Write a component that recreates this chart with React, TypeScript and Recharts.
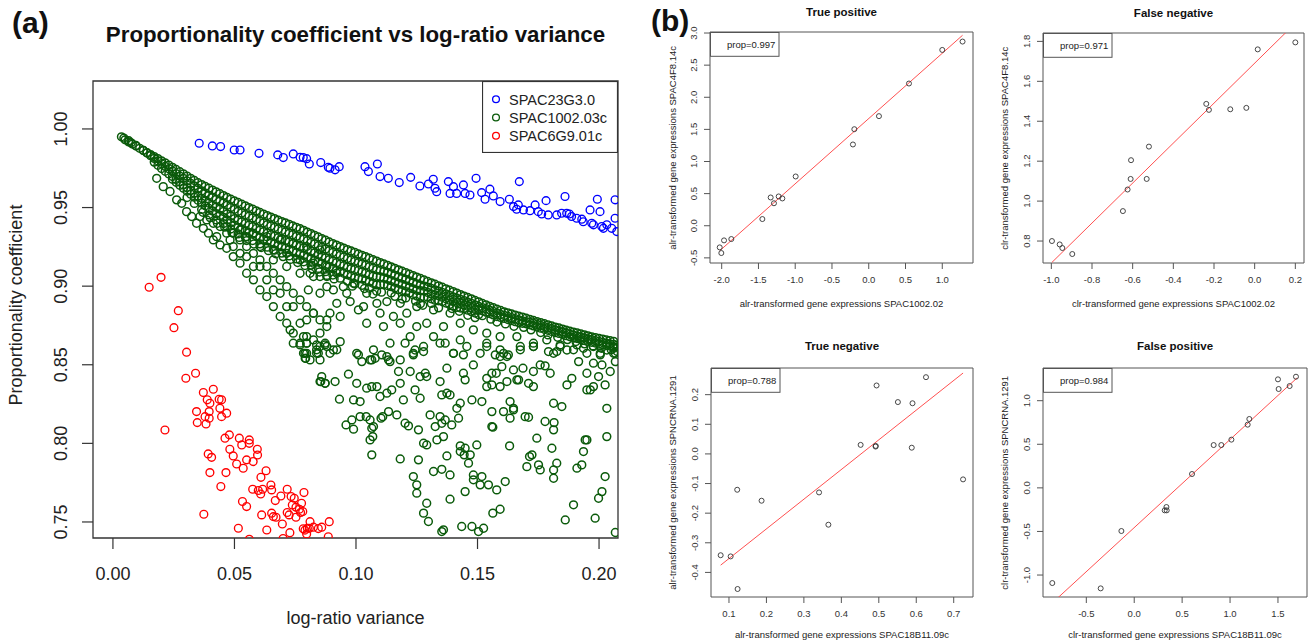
import React from 'react';
import { ScatterChart, Scatter, XAxis, YAxis, ReferenceArea, ReferenceLine, Legend } from 'recharts';

type P = [number, number];

// ---------------- Panel (a) data ----------------
const seriesNamesA = ['SPAC23G3.0', 'SPAC1002.03c', 'SPAC6G9.01c'];
const seriesColorsA = ['#0000ff', '#0a5a0a', '#ff0000'];

const blueSPAC23G3: P[] = [
  [0.0355,0.9909],[0.0409,0.9892],[0.0443,0.9888],[0.0499,0.9866],[0.0523,0.9866],[0.0601,0.9845],[0.0678,0.9835],[0.0701,0.9818],
  [0.0742,0.9841],[0.0770,0.9820],[0.0783,0.9818],[0.0797,0.9811],[0.0808,0.9777],[0.0855,0.9786],[0.0886,0.9756],[0.0893,0.9750],
  [0.0914,0.9740],[0.0931,0.9760],[0.1037,0.9760],[0.1051,0.9729],[0.1088,0.9777],[0.1099,0.9697],[0.1133,0.9686],[0.1178,0.9659],
  [0.1225,0.9692],[0.1263,0.9637],[0.1298,0.9650],[0.1318,0.9680],[0.1325,0.9623],[0.1332,0.9601],[0.1380,0.9665],[0.1387,0.9590],
  [0.1401,0.9633],[0.1414,0.9590],[0.1442,0.9644],[0.1449,0.9590],[0.1469,0.9580],[0.1494,0.9686],[0.1517,0.9595],[0.1531,0.9553],
  [0.1551,0.9617],[0.1565,0.9574],[0.1593,0.9538],[0.1631,0.9553],[0.1648,0.9506],[0.1661,0.9489],[0.1668,0.9517],[0.1672,0.9665],
  [0.1689,0.9485],[0.1716,0.9480],[0.1737,0.9517],[0.1750,0.9474],[0.1764,0.9459],[0.1782,0.9544],[0.1791,0.9453],[0.1826,0.9453],
  [0.1846,0.9464],[0.1860,0.9570],[0.1867,0.9464],[0.1878,0.9459],[0.1887,0.9443],[0.1908,0.9432],[0.1929,0.9426],[0.1935,0.9410],
  [0.1963,0.9485],[0.1970,0.9400],[0.1977,0.9390],[0.1993,0.9553],[0.2004,0.9474],[0.2011,0.9379],[0.2018,0.9368],[0.2032,0.9390],
  [0.2052,0.9368],[0.2066,0.9549],[0.2066,0.9432],[0.2073,0.9347],
];

const redSPAC6G9: P[] = [
  [0.0149,0.8993],[0.0198,0.9056],[0.0269,0.8844],[0.0251,0.8736],[0.0303,0.8580],[0.0340,0.8446],[0.0300,0.8414],[0.0214,0.8085],
  [0.0372,0.8323],[0.0413,0.8344],[0.0344,0.8202],[0.0347,0.8132],[0.0383,0.8123],[0.0379,0.8170],[0.0396,0.8160],[0.0388,0.8277],
  [0.0399,0.8255],[0.0396,0.8202],[0.0437,0.8280],[0.0447,0.8277],[0.0440,0.8223],[0.0447,0.8170],[0.0468,0.8192],[0.0392,0.7933],
  [0.0406,0.7911],[0.0399,0.7814],[0.0444,0.7725],[0.0465,0.7814],[0.0461,0.8033],[0.0479,0.8054],[0.0481,0.7962],[0.0495,0.7920],
  [0.0509,0.7869],[0.0520,0.8033],[0.0530,0.7990],[0.0536,0.7842],[0.0550,0.7895],[0.0561,0.8022],[0.0561,0.8000],[0.0577,0.7884],
  [0.0594,0.7962],[0.0595,0.7926],[0.0609,0.7784],[0.0630,0.7826],[0.0575,0.7708],[0.0598,0.7700],[0.0608,0.7678],[0.0616,0.7708],
  [0.0650,0.7735],[0.0653,0.7704],[0.0668,0.7636],[0.0691,0.7665],[0.0717,0.7708],[0.0733,0.7662],[0.0746,0.7651],[0.0738,0.7608],
  [0.0753,0.7594],[0.0767,0.7581],[0.0772,0.7560],[0.0786,0.7687],[0.0717,0.7560],[0.0725,0.7545],[0.0753,0.7530],[0.0533,0.7630],
  [0.0550,0.7598],[0.0374,0.7549],[0.0612,0.7545],[0.0653,0.7556],[0.0660,0.7534],[0.0671,0.7530],[0.0697,0.7487],[0.0516,0.7460],
  [0.0633,0.7449],[0.0728,0.7432],[0.0783,0.7457],[0.0790,0.7448],[0.0808,0.7460],[0.0825,0.7467],[0.0845,0.7458],[0.0859,0.7467],
  [0.0811,0.7502],[0.0797,0.7424],[0.0776,0.7619],[0.0781,0.7566],[0.0800,0.7460],[0.0890,0.7502],[0.0886,0.7406],[0.0561,0.7390],
  [0.0700,0.7395],
];

const greenApex: P[] = [
  [0.0035,0.9950],[0.0045,0.9942],[0.0065,0.9925],[0.0075,0.9912],[0.0095,0.9895],
];

const greenBandUpper: P[] = [
  [0.005,0.9931],[0.008,0.9904],[0.011,0.9877],[0.014,0.9850],[0.017,0.9824],[0.020,0.9797],[0.023,0.9770],[0.026,0.9742],
  [0.029,0.9714],[0.032,0.9686],[0.035,0.9658],[0.038,0.9634],[0.041,0.9611],[0.044,0.9588],[0.047,0.9564],[0.050,0.9542],
  [0.053,0.9521],[0.056,0.9500],[0.059,0.9479],[0.062,0.9458],[0.065,0.9439],[0.068,0.9420],[0.071,0.9402],[0.074,0.9383],
  [0.077,0.9365],[0.080,0.9344],[0.083,0.9323],[0.086,0.9302],[0.089,0.9281],[0.092,0.9261],[0.095,0.9242],[0.098,0.9224],
  [0.101,0.9205],[0.104,0.9187],[0.107,0.9168],[0.110,0.9150],[0.113,0.9132],[0.116,0.9113],[0.119,0.9095],[0.122,0.9076],
  [0.125,0.9058],[0.128,0.9039],[0.131,0.9021],[0.134,0.9002],[0.137,0.8983],[0.140,0.8965],[0.143,0.8946],[0.146,0.8928],
  [0.149,0.8909],[0.152,0.8890],[0.155,0.8872],[0.158,0.8853],[0.161,0.8837],[0.164,0.8823],[0.167,0.8809],[0.170,0.8796],
  [0.173,0.8782],[0.176,0.8768],[0.179,0.8754],[0.182,0.8740],[0.185,0.8727],[0.188,0.8713],[0.191,0.8702],[0.194,0.8690],
  [0.197,0.8678],[0.200,0.8667],[0.203,0.8658],[0.206,0.8649],
];

const greenBandUpperB: P[] = [
  [0.0065,0.9918],[0.0095,0.9891],[0.0125,0.9864],[0.0155,0.9837],[0.0185,0.9811],[0.0215,0.9784],[0.0245,0.9756],[0.0275,0.9728],
  [0.0305,0.9700],[0.0335,0.9672],[0.0365,0.9646],[0.0395,0.9623],[0.0425,0.9600],[0.0455,0.9576],[0.0485,0.9553],[0.0515,0.9532],
  [0.0545,0.9511],[0.0575,0.9490],[0.0605,0.9469],[0.0635,0.9449],[0.0665,0.9430],[0.0695,0.9411],[0.0725,0.9393],[0.0755,0.9374],
  [0.0785,0.9355],[0.0815,0.9334],[0.0845,0.9313],[0.0875,0.9292],[0.0905,0.9271],[0.0935,0.9252],[0.0965,0.9233],[0.0995,0.9215],
  [0.1025,0.9196],[0.1055,0.9178],[0.1085,0.9159],[0.1115,0.9141],[0.1145,0.9123],[0.1175,0.9104],[0.1205,0.9086],[0.1235,0.9067],
  [0.1265,0.9049],[0.1295,0.9030],[0.1325,0.9012],[0.1355,0.8993],[0.1385,0.8974],[0.1415,0.8956],[0.1445,0.8937],[0.1475,0.8919],
  [0.1505,0.8900],[0.1535,0.8881],[0.1565,0.8863],[0.1595,0.8845],[0.1625,0.8830],[0.1655,0.8816],[0.1685,0.8803],[0.1715,0.8789],
  [0.1745,0.8775],[0.1775,0.8761],[0.1805,0.8747],[0.1835,0.8734],[0.1865,0.8720],[0.1895,0.8708],[0.1925,0.8696],[0.1955,0.8684],
  [0.1985,0.8673],[0.2015,0.8663],[0.2045,0.8654],
];

const greenBandSecond: P[] = [
  [0.0125,0.9863],[0.0155,0.9830],[0.0185,0.9796],[0.0215,0.9762],[0.0245,0.9732],[0.0275,0.9700],[0.0305,0.9669],[0.0335,0.9637],
  [0.0365,0.9606],[0.0395,0.9578],[0.0425,0.9552],[0.0455,0.9529],[0.0485,0.9501],[0.0515,0.9476],[0.0545,0.9455],[0.0575,0.9434],
  [0.0605,0.9413],[0.0635,0.9392],[0.0665,0.9373],[0.0695,0.9354],[0.0725,0.9336],[0.0755,0.9317],[0.0785,0.9299],[0.0815,0.9278],
  [0.0845,0.9257],[0.0875,0.9236],[0.0905,0.9215],[0.0935,0.9195],[0.0965,0.9176],[0.0995,0.9158],[0.1025,0.9142],[0.1055,0.9124],
  [0.1085,0.9105],[0.1115,0.9094],[0.1145,0.9078],[0.1175,0.9059],[0.1205,0.9043],[0.1235,0.9024],[0.1265,0.9006],[0.1295,0.8994],
  [0.1325,0.8976],[0.1355,0.8960],[0.1385,0.8941],[0.1415,0.8923],[0.1445,0.8908],[0.1475,0.8890],[0.1505,0.8871],[0.1535,0.8857],
  [0.1565,0.8839],[0.1595,0.8820],[0.1625,0.8807],[0.1655,0.8793],[0.1685,0.8779],[0.1715,0.8771],[0.1745,0.8757],[0.1775,0.8743],
  [0.1805,0.8729],[0.1835,0.8715],[0.1865,0.8702],[0.1895,0.8688],[0.1925,0.8677],[0.1955,0.8665],[0.1985,0.8653],[0.2015,0.8642],
  [0.2045,0.8633],[0.2075,0.8624],
];

const greenBandSecondB: P[] = [
  [0.014,0.9847],[0.017,0.9813],[0.020,0.9779],[0.023,0.9747],[0.026,0.9716],[0.029,0.9685],[0.032,0.9653],[0.035,0.9622],
  [0.038,0.9592],[0.041,0.9565],[0.044,0.9541],[0.047,0.9515],[0.050,0.9489],[0.053,0.9466],[0.056,0.9445],[0.059,0.9424],
  [0.062,0.9403],[0.065,0.9383],[0.068,0.9364],[0.071,0.9345],[0.074,0.9327],[0.077,0.9308],[0.080,0.9289],[0.083,0.9268],
  [0.086,0.9247],[0.089,0.9226],[0.092,0.9205],[0.095,0.9186],[0.098,0.9167],[0.101,0.9150],[0.104,0.9133],[0.107,0.9115],
  [0.110,0.9100],[0.113,0.9086],[0.116,0.9069],[0.119,0.9051],[0.122,0.9034],[0.125,0.9015],[0.128,0.9000],[0.131,0.8985],
  [0.134,0.8968],[0.137,0.8951],[0.140,0.8932],[0.143,0.8916],[0.146,0.8899],[0.149,0.8881],[0.152,0.8864],[0.155,0.8848],
  [0.158,0.8830],[0.161,0.8814],[0.164,0.8800],[0.167,0.8786],[0.170,0.8775],[0.173,0.8764],[0.176,0.8750],[0.179,0.8736],
  [0.182,0.8722],[0.185,0.8709],[0.188,0.8695],[0.191,0.8683],[0.194,0.8671],[0.197,0.8659],[0.200,0.8648],[0.203,0.8638],
  [0.206,0.8629],
];

const greenBandThird: P[] = [
  [0.017,0.9789],[0.020,0.9748],[0.023,0.9714],[0.026,0.9679],[0.029,0.9644],[0.032,0.9609],[0.035,0.9574],[0.038,0.9543],
  [0.041,0.9513],[0.044,0.9490],[0.047,0.9459],[0.050,0.9430],[0.053,0.9409],[0.056,0.9388],[0.059,0.9367],[0.062,0.9346],
  [0.065,0.9327],[0.068,0.9308],[0.071,0.9290],[0.074,0.9271],[0.077,0.9253],[0.080,0.9232],[0.083,0.9211],[0.086,0.9190],
  [0.089,0.9169],[0.092,0.9149],[0.095,0.9130],[0.098,0.9112],[0.101,0.9100],[0.104,0.9082],[0.107,0.9063],[0.110,0.9059],
  [0.113,0.9044],[0.116,0.9025],[0.119,0.9011],[0.122,0.8992],[0.125,0.8974],[0.128,0.8969],[0.131,0.8951],[0.134,0.8939],
  [0.137,0.8920],[0.140,0.8902],[0.143,0.8890],[0.146,0.8872],[0.149,0.8853],[0.152,0.8844],[0.155,0.8826],[0.158,0.8807],
  [0.161,0.8795],[0.164,0.8781],[0.167,0.8767],[0.170,0.8761],[0.173,0.8747],[0.176,0.8733],[0.179,0.8719],[0.182,0.8705],
  [0.185,0.8692],[0.188,0.8678],[0.191,0.8667],[0.194,0.8655],[0.197,0.8643],[0.200,0.8632],[0.203,0.8623],[0.206,0.8614],
];

const greenBandThirdB: P[] = [
  [0.0185,0.9769],[0.0215,0.9731],[0.0245,0.9697],[0.0275,0.9662],[0.0305,0.9627],[0.0335,0.9592],[0.0365,0.9559],[0.0395,0.9528],
  [0.0425,0.9502],[0.0455,0.9475],[0.0485,0.9445],[0.0515,0.9420],[0.0545,0.9399],[0.0575,0.9378],[0.0605,0.9357],[0.0635,0.9337],
  [0.0665,0.9318],[0.0695,0.9299],[0.0725,0.9281],[0.0755,0.9262],[0.0785,0.9243],[0.0815,0.9222],[0.0845,0.9201],[0.0875,0.9180],
  [0.0905,0.9159],[0.0935,0.9140],[0.0965,0.9121],[0.0995,0.9106],[0.1025,0.9091],[0.1055,0.9073],[0.1085,0.9061],[0.1115,0.9052],
  [0.1145,0.9035],[0.1175,0.9018],[0.1205,0.9002],[0.1235,0.8983],[0.1265,0.8972],[0.1295,0.8960],[0.1325,0.8945],[0.1355,0.8930],
  [0.1385,0.8911],[0.1415,0.8896],[0.1445,0.8881],[0.1475,0.8863],[0.1505,0.8849],[0.1535,0.8835],[0.1565,0.8817],[0.1595,0.8801],
  [0.1625,0.8788],[0.1655,0.8774],[0.1685,0.8764],[0.1715,0.8754],[0.1745,0.8740],[0.1775,0.8726],[0.1805,0.8712],[0.1835,0.8699],
  [0.1865,0.8685],[0.1895,0.8673],[0.1925,0.8661],[0.1955,0.8649],[0.1985,0.8638],[0.2015,0.8628],[0.2045,0.8619],
];

const greenBandLower: P[] = [
  [0.0245,0.9680],[0.0275,0.9642],[0.0305,0.9604],[0.0335,0.9566],[0.0365,0.9528],[0.0395,0.9494],[0.0425,0.9461],[0.0455,0.9438],
  [0.0485,0.9404],[0.0515,0.9372],[0.0545,0.9351],[0.0575,0.9330],[0.0605,0.9309],[0.0635,0.9288],[0.0665,0.9269],[0.0695,0.9250],
  [0.0725,0.9232],[0.0755,0.9213],[0.0785,0.9195],[0.0815,0.9174],[0.0845,0.9153],[0.0875,0.9132],[0.0905,0.9111],[0.0935,0.9091],
  [0.0965,0.9072],[0.0995,0.9054],[0.1025,0.9045],[0.1055,0.9027],[0.1085,0.9008],[0.1115,0.9010],[0.1145,0.8997],[0.1175,0.8978],
  [0.1205,0.8965],[0.1235,0.8946],[0.1265,0.8928],[0.1295,0.8929],[0.1325,0.8911],[0.1355,0.8902],[0.1385,0.8883],[0.1415,0.8865],
  [0.1445,0.8856],[0.1475,0.8838],[0.1505,0.8819],
];

const greenBandLowerB: P[] = [
  [0.026,0.9661],[0.029,0.9623],[0.032,0.9585],[0.035,0.9547],[0.038,0.9511],[0.041,0.9478],[0.044,0.9450],[0.047,0.9421],
  [0.050,0.9388],[0.053,0.9362],[0.056,0.9341],[0.059,0.9320],[0.062,0.9299],[0.065,0.9279],[0.068,0.9260],[0.071,0.9241],
  [0.074,0.9223],[0.077,0.9204],[0.080,0.9185],[0.083,0.9164],[0.086,0.9143],[0.089,0.9122],[0.092,0.9101],[0.095,0.9082],
  [0.098,0.9063],[0.101,0.9050],[0.104,0.9036],[0.107,0.9018],[0.110,0.9009],[0.113,0.9004],[0.116,0.8988],[0.119,0.8972],
  [0.122,0.8956],[0.125,0.8937],[0.128,0.8929],[0.131,0.8920],[0.134,0.8907],[0.137,0.8893],[0.140,0.8874],[0.143,0.8861],
  [0.146,0.8847],[0.149,0.8829],
];

const greenBandDeep: P[] = [
  [0.0305,0.9564],[0.0335,0.9526],[0.0365,0.9488],[0.0395,0.9454],[0.0425,0.9421],[0.0455,0.9398],[0.0485,0.9364],[0.0515,0.9332],
  [0.0545,0.9311],[0.0575,0.9290],[0.0605,0.9269],[0.0635,0.9248],[0.0665,0.9229],[0.0695,0.9210],[0.0725,0.9192],[0.0755,0.9173],
  [0.0785,0.9155],[0.0815,0.9134],[0.0845,0.9113],[0.0875,0.9092],[0.0905,0.9071],[0.0935,0.9051],[0.0965,0.9032],[0.0995,0.9014],
  [0.1025,0.9005],[0.1055,0.8987],[0.1085,0.8968],[0.1145,0.8957],[0.1205,0.8925],[0.1265,0.8888],
];

const greenBandDeepest: P[] = [
  [0.037,0.9470],[0.040,0.9436],[0.043,0.9400],[0.046,0.9375],[0.049,0.9340],[0.052,0.9310],[0.055,0.9290],[0.058,0.9268],
  [0.061,0.9246],[0.064,0.9226],[0.067,0.9206],[0.070,0.9188],[0.073,0.9170],[0.076,0.9150],[0.079,0.9131],[0.082,0.9110],
  [0.085,0.9090],[0.088,0.9068],[0.091,0.9046],
];

const greenBandFringe: P[] = [
  [0.0985,0.9000],[0.1035,0.8985],[0.1070,0.8950],[0.1105,0.8962],[0.1160,0.8935],[0.1190,0.8918],[0.1245,0.8905],[0.1275,0.8878],
  [0.1310,0.8890],[0.1340,0.8862],[0.1395,0.8858],[0.1425,0.8840],[0.1460,0.8815],[0.1490,0.8800],[0.1520,0.8812],[0.1555,0.8790],
  [0.1580,0.8772],[0.1615,0.8760],[0.1650,0.8745],[0.1690,0.8738],[0.1720,0.8722],[0.1760,0.8705],[0.1790,0.8690],[0.1830,0.8675],
  [0.1870,0.8660],[0.1905,0.8648],[0.1940,0.8633],[0.1975,0.8620],[0.2010,0.8605],[0.2050,0.8595],[0.2075,0.8585],
];

const greenSpreadLeft: P[] = [
  [0.0180,0.9686],[0.0207,0.9633],[0.0235,0.9602],[0.0262,0.9549],[0.0283,0.9527],[0.0303,0.9474],[0.0324,0.9443],[0.0344,0.9400],
  [0.0372,0.9368],[0.0393,0.9337],[0.0413,0.9294],[0.0441,0.9262],[0.0468,0.9241],[0.0495,0.9188],[0.0523,0.9146],[0.0550,0.9082],
  [0.0578,0.9040],[0.0605,0.8976],[0.0633,0.8934],[0.0660,0.8870],[0.0688,0.8807],[0.0715,0.8764],[0.0742,0.8701],[0.0770,0.8637],
  [0.0797,0.8573],[0.0358,0.9443],[0.0386,0.9421],[0.0413,0.9400],[0.0441,0.9379],[0.0468,0.9337],[0.0495,0.9337],[0.0523,0.9294],
  [0.0550,0.9252],[0.0578,0.9209],[0.0605,0.9167],[0.0633,0.9125],[0.0660,0.9082],[0.0688,0.9040],[0.0715,0.8997],[0.0742,0.8955],
  [0.0770,0.8913],[0.0797,0.8870],[0.0825,0.8828],[0.0852,0.8785],[0.0880,0.8743],[0.0468,0.9379],[0.0523,0.9358],[0.0578,0.9337],
  [0.0633,0.9315],[0.0688,0.9294],[0.0742,0.9273],[0.0797,0.9252],[0.0852,0.9231],[0.0495,0.9252],[0.0550,0.9188],[0.0605,0.9125],
  [0.0660,0.9167],[0.0715,0.9125],[0.0770,0.9082],[0.0825,0.9061],[0.0880,0.8997],[0.0578,0.9125],[0.0633,0.9040],[0.0688,0.8955],
  [0.0742,0.8870],[0.0797,0.8785],[0.0852,0.8701],[0.0880,0.8616],[0.0825,0.8658],[0.0770,0.8764],[0.0715,0.8870],[0.0660,0.8976],
  [0.0523,0.9209],[0.0427,0.9315],[0.0482,0.9294],[0.0550,0.9315],[0.0605,0.9252],[0.0660,0.9231],[0.0715,0.9209],[0.0770,0.9167],
  [0.0825,0.9146],[0.0880,0.9125],[0.0729,0.8722],[0.0784,0.8679],[0.0838,0.8595],[0.0893,0.8573],[0.0852,0.8531],[0.0811,0.8531],
  [0.0742,0.8637],[0.0770,0.8626],[0.0797,0.8637],[0.0838,0.8626],[0.0873,0.8637],[0.0790,0.8573],[0.0838,0.8573],[0.0793,0.8541],
  [0.0859,0.8425],[0.0873,0.8382],[0.0852,0.8393],
];

const greenSpreadMid: P[] = [
  [0.0811,0.9082],[0.0880,0.9061],[0.0921,0.9082],[0.0804,0.8976],[0.0852,0.8955],[0.0907,0.8976],[0.0948,0.8997],[0.0990,0.9019],
  [0.1044,0.8955],[0.0921,0.8891],[0.0976,0.8902],[0.1010,0.8849],[0.1086,0.8891],[0.1127,0.8902],[0.0825,0.8828],[0.0880,0.8785],
  [0.0935,0.8807],[0.1044,0.8764],[0.1113,0.8743],[0.1182,0.8764],[0.1223,0.8679],[0.1140,0.8637],[0.1072,0.8595],[0.1003,0.8573],
  [0.0921,0.8595],[0.0852,0.8616],[0.0797,0.8679],[0.0784,0.8573],[0.1236,0.8573],[0.1278,0.8616],[0.1346,0.8637],[0.1401,0.8573],
  [0.1456,0.8616],[0.1511,0.8573],[0.1538,0.8637],[0.1593,0.8595],[0.1621,0.8552],[0.1676,0.8595],[0.1730,0.8616],[0.1785,0.8658],
  [0.1813,0.8573],[0.1840,0.8616],[0.1895,0.8595],[0.1950,0.8573],[0.2005,0.8563],[0.2060,0.8573],[0.1182,0.8891],[0.1250,0.8870],
  [0.1319,0.8849],[0.1387,0.8828],[0.1209,0.8828],[0.1291,0.8764],[0.1360,0.8743],[0.1429,0.8764],[0.1483,0.8722],[0.1538,0.8701],
  [0.1593,0.8679],[0.1662,0.8679],[0.1730,0.8637],[0.1429,0.8658],[0.1319,0.8679],[0.1250,0.8743],[0.1154,0.8807],[0.1099,0.8828],
  [0.1031,0.8870],[0.0962,0.8955],[0.0852,0.9061],[0.0893,0.8828],
];

const greenSpreadLow: P[] = [
  [0.0797,0.8637],[0.0845,0.8573],[0.0873,0.8626],[0.0907,0.8594],[0.0935,0.8647],[0.1010,0.8563],[0.1065,0.8531],[0.1079,0.8541],
  [0.1106,0.8563],[0.1127,0.8552],[0.1140,0.8520],[0.1182,0.8531],[0.1202,0.8637],[0.1236,0.8563],[0.1243,0.8594],[0.1278,0.8584],
  [0.1367,0.8637],[0.1401,0.8573],[0.1442,0.8563],[0.1538,0.8616],[0.1573,0.8563],[0.1593,0.8552],[0.1607,0.8573],[0.1627,0.8563],
  [0.1676,0.8616],[0.1730,0.8616],[0.1792,0.8584],[0.1840,0.8626],[0.1868,0.8594],[0.1909,0.8626],[0.1936,0.8605],[0.1977,0.8616],
  [0.2005,0.8573],[0.2032,0.8594],[0.2060,0.8605],[0.2067,0.8573],
  [0.0791,0.8541],[0.1024,0.8520],[0.1058,0.8531],[0.1134,0.8531],[0.1175,0.8457],[0.1223,0.8457],[0.1285,0.8446],[0.1264,0.8425],
  [0.1291,0.8425],[0.1346,0.8393],[0.1374,0.8478],[0.1442,0.8446],[0.1449,0.8404],[0.1483,0.8499],[0.1538,0.8414],[0.1559,0.8446],
  [0.1577,0.8446],[0.1600,0.8488],[0.1621,0.8393],[0.1648,0.8467],[0.1662,0.8404],[0.1687,0.8478],[0.1710,0.8382],[0.1730,0.8457],
  [0.1758,0.8499],[0.1778,0.8493],[0.1799,0.8446],[0.1826,0.8584],[0.1868,0.8372],[0.1888,0.8414],[0.1916,0.8520],[0.1950,0.8446],
  [0.1964,0.8340],[0.1977,0.8510],[0.1998,0.8425],[0.2012,0.8499],[0.2046,0.8457],[0.2067,0.8520],
  [0.0855,0.8393],[0.0873,0.8382],[0.0914,0.8393],[0.0932,0.8281],[0.0969,0.8440],[0.0990,0.8276],[0.1003,0.8382],[0.1017,0.8266],
  [0.1044,0.8351],[0.1065,0.8361],[0.1086,0.8361],[0.1099,0.8298],[0.1127,0.8319],[0.1147,0.8340],[0.1182,0.8382],[0.1195,0.8276],
  [0.1243,0.8340],[0.1264,0.8287],[0.1353,0.8308],[0.1374,0.8319],[0.1387,0.8308],[0.1415,0.8223],[0.1429,0.8255],[0.1477,0.8276],
  [0.1518,0.8266],[0.1538,0.8361],[0.1559,0.8372],[0.1593,0.8361],[0.1634,0.8266],[0.1648,0.8223],[0.1669,0.8404],[0.1730,0.8361],
  [0.1813,0.8255],[0.1847,0.8234],[0.1950,0.8340],[0.1977,0.8361],[0.2025,0.8372],[0.2032,0.8223],
  [0.0959,0.8117],[0.0983,0.8149],[0.0990,0.8090],[0.1017,0.8170],[0.1042,0.8170],[0.1058,0.8149],[0.1065,0.8096],[0.1072,0.8107],
  [0.1058,0.8022],[0.1069,0.8043],[0.1103,0.8160],[0.1110,0.8170],[0.1134,0.8202],[0.1168,0.8181],[0.1202,0.8128],[0.1216,0.8111],
  [0.1257,0.8086],[0.1305,0.8181],[0.1326,0.8107],[0.1346,0.8170],[0.1353,0.8128],[0.1367,0.8149],[0.1394,0.8117],[0.1422,0.8160],
  [0.1360,0.8043],[0.1333,0.8022],[0.1559,0.8202],[0.1559,0.8107],[0.1563,0.8103],[0.1607,0.8202],[0.1634,0.8160],[0.1648,0.8213],
  [0.1696,0.8170],[0.1710,0.8166],[0.1744,0.8033],[0.1778,0.8139],[0.1815,0.8132],[0.1813,0.8086],[0.2032,0.8043],[0.1950,0.8022],
  [0.1065,0.7927],[0.1182,0.7901],[0.1257,0.7895],[0.1278,0.8001],[0.1291,0.7990],[0.1374,0.7920],[0.1429,0.7984],[0.1429,0.7948],
  [0.1445,0.7927],[0.1449,0.7969],[0.1470,0.7927],[0.1497,0.7990],[0.1463,0.7874],[0.1632,0.7984],[0.1714,0.7916],[0.1724,0.7927],
  [0.1703,0.7852],[0.1751,0.7863],[0.1758,0.7831],[0.1806,0.7969],[0.1813,0.7831],[0.1826,0.7874],[0.1909,0.7842],[0.1929,0.7863],
  [0.1943,0.8022],[0.1936,0.7948],
  [0.1236,0.7789],[0.1250,0.7736],[0.1250,0.7683],[0.1319,0.7821],[0.1353,0.7835],[0.1387,0.7799],[0.1483,0.7799],[0.1483,0.7768],
  [0.1518,0.7789],[0.1511,0.7736],[0.1545,0.7736],[0.1579,0.7704],[0.1614,0.7757],[0.1449,0.7693],[0.1387,0.7645],[0.1813,0.7778],
  [0.2025,0.7789],[0.2012,0.7693],[0.1998,0.7651],[0.1895,0.7609],
  [0.1291,0.7619],[0.1278,0.7556],[0.1298,0.7503],[0.1353,0.7439],[0.1360,0.7450],[0.1435,0.7471],[0.1477,0.7471],[0.1504,0.7439],
  [0.1525,0.7460],[0.1563,0.7556],[0.1593,0.7581],[0.1861,0.7513],[0.1984,0.7524],[0.2067,0.7433],
];

const greenSPAC1002: P[] = [
  ...greenApex, ...greenBandUpper, ...greenBandUpperB, ...greenBandSecond, ...greenBandSecondB,
  ...greenBandThird, ...greenBandThirdB, ...greenBandLower, ...greenBandLowerB, ...greenBandDeep, ...greenBandDeepest,
  ...greenBandFringe, ...greenSpreadLeft, ...greenSpreadMid, ...greenSpreadLow,
];

const aXTicks = [0, 0.05, 0.1, 0.15, 0.2];
const aYTicks = [0.75, 0.8, 0.85, 0.9, 0.95, 1.0];
const aXDomain: [number, number] = [-0.0082, 0.2078];
const aYDomain: [number, number] = [0.7398, 1.0305];

// ---------------- Panel (b) data ----------------
const tpPoints: P[] = [
  [-2.027,-0.337],[-2.005,-0.425],[-1.968,-0.228],[-1.869,-0.207],[-1.447,0.104],[-1.334,0.44],[-1.289,0.35],[-1.225,0.456],
  [-1.175,0.425],[-0.994,0.767],[-0.215,1.265],[-0.196,1.503],[0.139,1.706],[0.547,2.214],[1.0,2.737],[1.276,2.867],
];
const tpFit: P[] = [[-2.027,-0.390],[1.276,2.965]];
const tpXTicks = [-2, -1.5, -1, -0.5, 0, 0.5, 1];
const tpYTicks = [-0.5, 0, 0.5, 1, 1.5, 2, 2.5, 3];

const fnPoints: P[] = [
  [-0.997,0.80],[-0.959,0.783],[-0.946,0.765],[-0.897,0.735],[-0.648,0.950],[-0.625,1.058],[-0.610,1.111],[-0.608,1.205],
  [-0.531,1.111],[-0.520,1.273],[-0.238,1.487],[-0.225,1.457],[-0.120,1.460],[-0.041,1.467],[0.015,1.760],[0.200,1.795],
];
const fnFit: P[] = [[-0.997,0.693],[0.200,1.891]];
const fnXTicks = [-1, -0.8, -0.6, -0.4, -0.2, 0, 0.2];
const fnYTicks = [0.8, 1.0, 1.2, 1.4, 1.6, 1.8];

const tnPoints: P[] = [
  [0.0778,-0.342],[0.1044,-0.346],[0.123,-0.456],[0.122,-0.121],[0.187,-0.158],[0.3405,-0.130],[0.3654,-0.239],[0.4515,0.0305],
  [0.4914,0.0248],[0.4918,0.027],[0.494,0.231],[0.551,0.175],[0.590,0.171],[0.588,0.021],[0.626,0.259],[0.725,-0.086],
];
const tnFit: P[] = [[0.0778,-0.3755],[0.725,0.273]];
const tnXTicks = [0.1, 0.2, 0.3, 0.4, 0.5, 0.6, 0.7];
const tnYTicks = [-0.4, -0.3, -0.2, -0.1, 0, 0.1, 0.2];

const fpPoints: P[] = [
  [-0.855,-1.092],[-0.350,-1.153],[-0.134,-0.495],[0.318,-0.258],[0.336,-0.220],[0.339,-0.258],[0.603,0.159],[0.829,0.491],
  [0.909,0.491],[1.014,0.553],[1.184,0.725],[1.201,0.790],[1.500,1.245],[1.507,1.134],[1.622,1.168],[1.688,1.275],
];
const fpFit: P[] = [[-0.855,-1.320],[1.700,1.262]];
const fpXTicks = [-0.5, 0, 0.5, 1, 1.5];
const fpYTicks = [-1, -0.5, 0, 0.5, 1];

// ---------------- helpers ----------------
const FONT = '"Liberation Sans", Arial, Helvetica, sans-serif';
const toXY = (arr: P[]) => arr.map(([x, y]) => ({ x, y }));

const ring = (r: number, color: string, sw: number) => (props: any) => {
  if (props == null || props.cx == null || props.cy == null) return <g />;
  return <circle cx={props.cx} cy={props.cy} r={r} fill="none" stroke={color} strokeWidth={sw} />;
};

const makeXTick = (fs: number, dy: number, digits: number, color: string) => (props: any) => {
  const { x, y, payload } = props;
  return (
    <text x={x} y={y + dy} textAnchor="middle" fontSize={fs} fill={color} fontFamily={FONT}>
      {Number(payload.value).toFixed(digits)}
    </text>
  );
};

const makeYTick = (fs: number, dx: number, digits: number, color: string) => (props: any) => {
  const { x, y, payload } = props;
  const tx = x + dx;
  return (
    <text x={tx} y={y} transform={`rotate(-90 ${tx} ${y})`} textAnchor="middle" fontSize={fs} fill={color} fontFamily={FONT}>
      {Number(payload.value).toFixed(digits)}
    </text>
  );
};

const LegendA = () => (
  <svg width={136} height={72} style={{ display: 'block' }}>
    <rect x={0.5} y={0.5} width={135} height={71} fill="#fff" stroke="#333" strokeWidth={1.2} />
    {seriesNamesA.map((n, i) => (
      <g key={n}>
        <circle cx={14} cy={18.3 + i * 18.2} r={3.4} fill="none" stroke={seriesColorsA[i]} strokeWidth={1.3} />
        <text x={27} y={18.3 + i * 18.2 + 5.2} fontSize={14.5} fill="#222" fontFamily={FONT}>{n}</text>
      </g>
    ))}
  </svg>
);

const PropLegend = ({ label }: { label: string }) => (
  <svg width={70} height={25} style={{ display: 'block' }}>
    <rect x={0.5} y={0.5} width={68.5} height={23.8} fill="#fff" stroke="#555" strokeWidth={1} />
    <text x={17} y={16} fontSize={9.5} fill="#222" fontFamily={FONT}>{label}</text>
  </svg>
);

type SmallCfg = {
  left: number; top: number; width: number; height: number;
  plotLeft: number; plotTop: number; plotRight: number; plotBottom: number;
  xDomain: [number, number]; yDomain: [number, number];
  xTicks: number[]; yTicks: number[];
  points: P[]; fit: P[]; prop: string;
};

const SmallPlot = ({ c }: { c: SmallCfg }) => {
  const yAxisW = c.plotLeft - c.left;
  const xAxisH = c.top + c.height - c.plotBottom;
  return (
    <div style={{ position: 'absolute', left: c.left, top: c.top }}>
      <ScatterChart
        width={c.width}
        height={c.height}
        margin={{ top: c.plotTop - c.top, right: c.left + c.width - c.plotRight, bottom: 0, left: 0 }}
      >
        <XAxis type="number" dataKey="x" domain={c.xDomain} allowDataOverflow ticks={c.xTicks} interval={0}
          tick={makeXTick(9.5, 14, 1, '#333')} tickSize={6} tickMargin={0} tickLine={{ stroke: '#555' }}
          axisLine={false} height={xAxisH} />
        <YAxis type="number" dataKey="y" domain={c.yDomain} allowDataOverflow ticks={c.yTicks} interval={0}
          tick={makeYTick(9.5, -7, 1, '#333')} tickSize={6} tickMargin={0} tickLine={{ stroke: '#555' }}
          axisLine={false} width={yAxisW} />
        <ReferenceArea x1={c.xDomain[0]} x2={c.xDomain[1]} y1={c.yDomain[0]} y2={c.yDomain[1]}
          fill="none" fillOpacity={0} stroke="#555" strokeWidth={1} ifOverflow="visible" />
        <ReferenceLine segment={toXY(c.fit)} stroke="#ff5050" strokeWidth={1} ifOverflow="hidden" />
        <Scatter data={toXY(c.points)} shape={ring(2.5, '#333', 0.9)} isAnimationActive={false} />
        <Legend layout="horizontal" verticalAlign="middle" align="center"
          wrapperStyle={{ left: c.plotLeft - c.left, top: c.plotTop - c.top, width: 70, height: 25 }}
          content={() => <PropLegend label={c.prop} />} />
      </ScatterChart>
    </div>
  );
};

const smallPlots: SmallCfg[] = [
  { left: 640, top: 0, width: 340, height: 320, plotLeft: 710, plotTop: 32, plotRight: 973, plotBottom: 263,
    xDomain: [-2.159, 1.418], yDomain: [-0.58, 3.016], xTicks: tpXTicks, yTicks: tpYTicks, points: tpPoints, fit: tpFit, prop: 'prop=0.997' },
  { left: 980, top: 0, width: 329, height: 320, plotLeft: 1043, plotTop: 33, plotRight: 1304, plotBottom: 263,
    xDomain: [-1.041, 0.2426], yDomain: [0.69, 1.842], xTicks: fnXTicks, yTicks: fnYTicks, points: fnPoints, fit: fnFit, prop: 'prop=0.971' },
  { left: 640, top: 320, width: 340, height: 324, plotLeft: 711, plotTop: 368, plotRight: 973, plotBottom: 597,
    xDomain: [0.052, 0.7515], yDomain: [-0.483, 0.29], xTicks: tnXTicks, yTicks: tnYTicks, points: tnPoints, fit: tnFit, prop: 'prop=0.788' },
  { left: 980, top: 320, width: 329, height: 324, plotLeft: 1043, plotTop: 368, plotRight: 1307, plotBottom: 597,
    xDomain: [-0.952, 1.803], yDomain: [-1.252, 1.375], xTicks: fpXTicks, yTicks: fpYTicks, points: fpPoints, fit: fpFit, prop: 'prop=0.984' },
];

const smallTitles = [
  { t: 'True positive', x: 841.5, y: 15.5 },
  { t: 'False negative', x: 1173.5, y: 16.5 },
  { t: 'True negative', x: 842, y: 350 },
  { t: 'False positive', x: 1175, y: 350 },
];
const smallXTitles = [
  { t: 'alr-transformed gene expressions SPAC1002.02', x: 841.5, y: 306.5 },
  { t: 'clr-transformed gene expressions SPAC1002.02', x: 1173.5, y: 306.8 },
  { t: 'alr-transformed gene expressions SPAC18B11.09c', x: 842, y: 638.4 },
  { t: 'clr-transformed gene expressions SPAC18B11.09c', x: 1175, y: 638.4 },
];
const smallYTitles = [
  { t: 'alr-transformed gene expressions SPAC4F8.14c', x: 676, y: 147.8 },
  { t: 'clr-transformed gene expressions SPAC4F8.14c', x: 1008.5, y: 148.3 },
  { t: 'alr-transformed gene expressions SPNCRNA.1291', x: 676, y: 482.5 },
  { t: 'clr-transformed gene expressions SPNCRNA.1291', x: 1008.5, y: 482.8 },
];

export default function App() {
  const aSeries: P[][] = [blueSPAC23G3, greenSPAC1002, redSPAC6G9];
  const strokeWidths = [1.35, 1.5, 1.35];
  const drawOrder = [1, 0, 2];
  return (
    <div style={{ position: 'absolute', left: 0, top: 0, width: 1309, height: 644, background: '#fff', fontFamily: FONT, overflow: 'hidden' }}>
      <div style={{ position: 'absolute', left: 0, top: 0 }}>
        <ScatterChart width={640} height={644} margin={{ top: 81, right: 22, bottom: 0, left: 0 }}>
          <XAxis type="number" dataKey="x" domain={aXDomain} allowDataOverflow ticks={aXTicks} interval={0}
            tick={makeXTick(18, 31, 2, '#222')} tickSize={11} tickMargin={0} tickLine={{ stroke: '#333', strokeWidth: 1.2 }}
            axisLine={false} height={106} />
          <YAxis type="number" dataKey="y" domain={aYDomain} allowDataOverflow ticks={aYTicks} interval={0}
            tick={makeYTick(18, -14.6, 2, '#222')} tickSize={11} tickMargin={0} tickLine={{ stroke: '#333', strokeWidth: 1.2 }}
            axisLine={false} width={93} />
          <ReferenceArea x1={aXDomain[0]} x2={aXDomain[1]} y1={aYDomain[0]} y2={aYDomain[1]}
            fill="none" fillOpacity={0} stroke="#333" strokeWidth={1.3} ifOverflow="visible" />
          {drawOrder.map((i) => (
            <Scatter key={seriesNamesA[i]} name={seriesNamesA[i]} data={toXY(aSeries[i])}
              shape={ring(3.9, seriesColorsA[i], strokeWidths[i])} isAnimationActive={false} />
          ))}
          <Legend layout="horizontal" verticalAlign="middle" align="center"
            wrapperStyle={{ left: 482, top: 81, width: 136, height: 72 }}
            content={() => <LegendA />} />
        </ScatterChart>
      </div>
      {smallPlots.map((c, i) => <SmallPlot key={i} c={c} />)}
      <svg width={1309} height={644} style={{ position: 'absolute', left: 0, top: 0, pointerEvents: 'none' }}>
        <text x={12} y={33} fontSize={30} fontWeight="bold" fill="#111" fontFamily={FONT}>(a)</text>
        <text x={355.5} y={42} fontSize={22.3} fontWeight="bold" textAnchor="middle" fill="#111" fontFamily={FONT}>
          Proportionality coefficient vs log-ratio variance
        </text>
        <text x={21.5} y={305} fontSize={18} textAnchor="middle" fill="#222" fontFamily={FONT} transform="rotate(-90 21.5 305)">
          Proportionality coefficient
        </text>
        <text x={355.5} y={624} fontSize={18} textAnchor="middle" fill="#222" fontFamily={FONT}>log-ratio variance</text>
        <text x={651} y={31} fontSize={30} fontWeight="bold" fill="#111" fontFamily={FONT}>(b)</text>
        {smallTitles.map((s) => (
          <text key={s.t} x={s.x} y={s.y} fontSize={11.5} fontWeight="bold" textAnchor="middle" fill="#111" fontFamily={FONT}>{s.t}</text>
        ))}
        {smallXTitles.map((s) => (
          <text key={s.t} x={s.x} y={s.y} fontSize={9.5} textAnchor="middle" fill="#222" fontFamily={FONT}>{s.t}</text>
        ))}
        {smallYTitles.map((s) => (
          <text key={s.t} x={s.x} y={s.y} fontSize={9.5} textAnchor="middle" fill="#222" fontFamily={FONT}
            transform={`rotate(-90 ${s.x} ${s.y})`}>{s.t}</text>
        ))}
      </svg>
    </div>
  );
}
